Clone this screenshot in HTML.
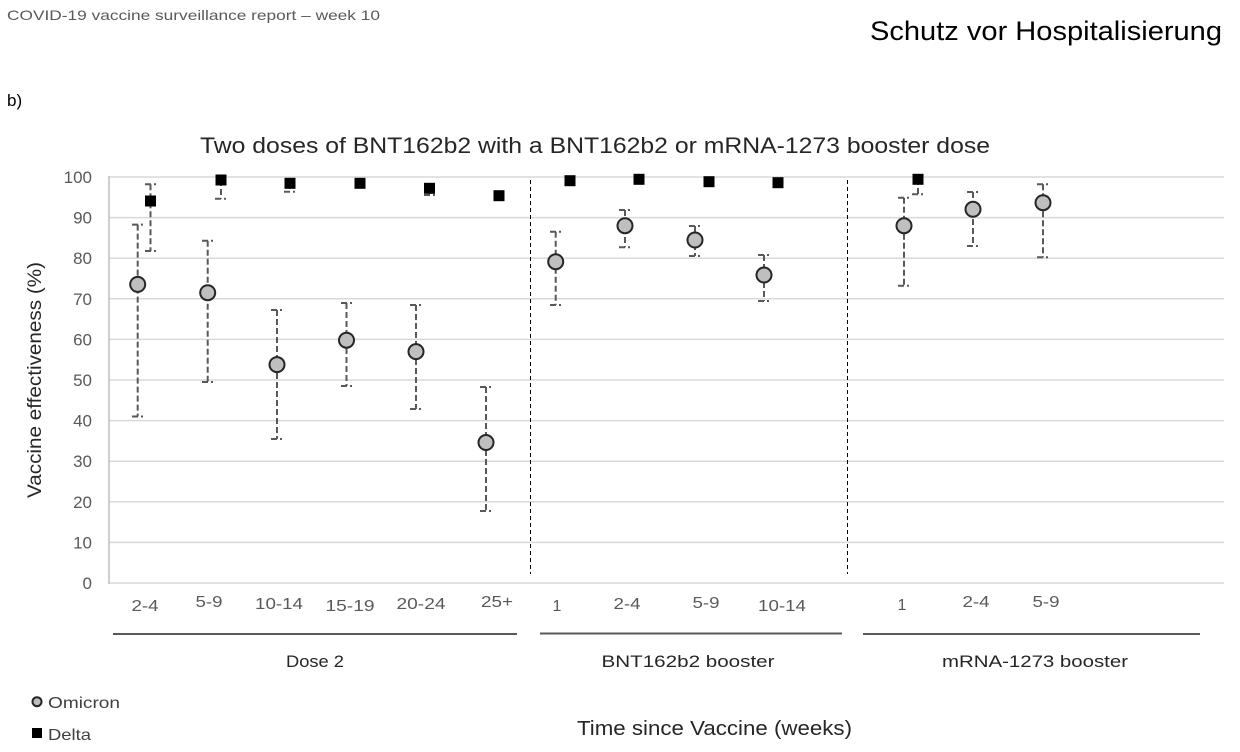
<!DOCTYPE html>
<html>
<head>
<meta charset="utf-8">
<style>
  html, body { margin: 0; padding: 0; background: #ffffff; }
  body { width: 1240px; height: 752px; overflow: hidden; }
  svg { display: block; }
  text { font-family: "Liberation Sans", "DejaVu Sans", sans-serif; }
</style>
</head>
<body>
<svg width="1240" height="752" viewBox="0 0 1240 752" xmlns="http://www.w3.org/2000/svg">
  <rect x="0" y="0" width="1240" height="752" fill="#ffffff"/>

  <!-- Header -->
  <text x="7" y="20" font-size="14" fill="#595959" textLength="373" lengthAdjust="spacingAndGlyphs">COVID-19 vaccine surveillance report – week 10</text>
  <text x="870" y="40" font-size="27" fill="#000000" textLength="352" lengthAdjust="spacingAndGlyphs">Schutz vor Hospitalisierung</text>
  <text x="7" y="106" font-size="17" fill="#000000">b)</text>

  <!-- Title -->
  <text x="200" y="153" font-size="22" fill="#262626" textLength="790" lengthAdjust="spacingAndGlyphs">Two doses of BNT162b2 with a BNT162b2 or mRNA-1273 booster dose</text>

  <!-- Gridlines -->
  <g stroke="#d9d9d9" stroke-width="1.5">
    <line x1="109" y1="177" x2="1224" y2="177"/>
    <line x1="109" y1="217.6" x2="1224" y2="217.6"/>
    <line x1="109" y1="258.2" x2="1224" y2="258.2"/>
    <line x1="109" y1="298.8" x2="1224" y2="298.8"/>
    <line x1="109" y1="339.4" x2="1224" y2="339.4"/>
    <line x1="109" y1="380" x2="1224" y2="380"/>
    <line x1="109" y1="420.6" x2="1224" y2="420.6"/>
    <line x1="109" y1="461.2" x2="1224" y2="461.2"/>
    <line x1="109" y1="501.8" x2="1224" y2="501.8"/>
    <line x1="109" y1="542.4" x2="1224" y2="542.4"/>
    <line x1="109" y1="583" x2="1224" y2="583"/>
  </g>
  <line x1="109" y1="176" x2="109" y2="584" stroke="#bfbfbf" stroke-width="1.5"/>

  <!-- Y tick labels -->
  <g font-size="17" fill="#595959" text-anchor="end">
    <text x="92" y="183">100</text>
    <text x="92" y="223.6">90</text>
    <text x="92" y="264.2">80</text>
    <text x="92" y="304.8">70</text>
    <text x="92" y="345.4">60</text>
    <text x="92" y="386">50</text>
    <text x="92" y="426.6">40</text>
    <text x="92" y="467.2">30</text>
    <text x="92" y="507.8">20</text>
    <text x="92" y="548.4">10</text>
    <text x="92" y="589">0</text>
  </g>

  <!-- Y axis title -->
  <text transform="translate(41,380) rotate(-90)" x="0" y="0" font-size="19" fill="#262626" text-anchor="middle" textLength="236" lengthAdjust="spacingAndGlyphs">Vaccine effectiveness (%)</text>

  <!-- Dashed separators -->
  <g stroke="#000000" stroke-width="1" stroke-dasharray="4,3">
    <line x1="530.5" y1="180" x2="530.5" y2="574"/>
    <line x1="847.5" y1="180" x2="847.5" y2="574"/>
  </g>

  <!-- Error bars -->
  <g stroke="#595959" stroke-width="2" fill="none" stroke-dasharray="6,3">
    <!-- Omicron Dose 2 -->
    <line x1="137.7" y1="224.6" x2="137.7" y2="416.5"/>
    <line x1="132" y1="224.6" x2="143" y2="224.6"/><line x1="132" y1="416.5" x2="143" y2="416.5"/>
    <line x1="207.7" y1="240.7" x2="207.7" y2="382"/>
    <line x1="202" y1="240.7" x2="213" y2="240.7"/><line x1="202" y1="382" x2="213" y2="382"/>
    <line x1="277" y1="310" x2="277" y2="439"/>
    <line x1="271" y1="310" x2="282" y2="310"/><line x1="271" y1="439" x2="282" y2="439"/>
    <line x1="346.5" y1="303" x2="346.5" y2="386"/>
    <line x1="341" y1="303" x2="352" y2="303"/><line x1="341" y1="386" x2="352" y2="386"/>
    <line x1="416" y1="305" x2="416" y2="409"/>
    <line x1="410" y1="305" x2="421" y2="305"/><line x1="410" y1="409" x2="421" y2="409"/>
    <line x1="486" y1="387" x2="486" y2="511"/>
    <line x1="480" y1="387" x2="491" y2="387"/><line x1="480" y1="511" x2="491" y2="511"/>
    <!-- Omicron BNT booster -->
    <line x1="555.7" y1="231.7" x2="555.7" y2="305"/>
    <line x1="550" y1="231.7" x2="561" y2="231.7"/><line x1="550" y1="305" x2="561" y2="305"/>
    <line x1="625" y1="210" x2="625" y2="247.3"/>
    <line x1="619" y1="210" x2="630" y2="210"/><line x1="619" y1="247.3" x2="630" y2="247.3"/>
    <line x1="695" y1="226" x2="695" y2="256"/>
    <line x1="689" y1="226" x2="700" y2="226"/><line x1="689" y1="256" x2="700" y2="256"/>
    <line x1="764" y1="255" x2="764" y2="301"/>
    <line x1="758" y1="255" x2="769" y2="255"/><line x1="758" y1="301" x2="769" y2="301"/>
    <!-- Omicron mRNA booster -->
    <line x1="904" y1="197.7" x2="904" y2="285.7"/>
    <line x1="898" y1="197.7" x2="909" y2="197.7"/><line x1="898" y1="285.7" x2="909" y2="285.7"/>
    <line x1="973" y1="192" x2="973" y2="246"/>
    <line x1="967" y1="192" x2="978" y2="192"/><line x1="967" y1="246" x2="978" y2="246"/>
    <line x1="1043" y1="184.3" x2="1043" y2="257.3"/>
    <line x1="1037" y1="184.3" x2="1048" y2="184.3"/><line x1="1037" y1="257.3" x2="1048" y2="257.3"/>
    <!-- Delta -->
    <line x1="150.5" y1="184.3" x2="150.5" y2="251"/>
    <line x1="145" y1="184.3" x2="156" y2="184.3"/><line x1="145" y1="251" x2="156" y2="251"/>
    <line x1="221" y1="180" x2="221" y2="198.7"/>
    <line x1="215" y1="198.7" x2="226" y2="198.7"/>
    <line x1="290" y1="183" x2="290" y2="191.7"/>
    <line x1="284" y1="191.7" x2="295" y2="191.7"/>
    <line x1="429.5" y1="188" x2="429.5" y2="195"/>
    <line x1="424" y1="195" x2="435" y2="195"/>
    <line x1="918" y1="179" x2="918" y2="194.3"/>
    <line x1="912" y1="194.3" x2="923" y2="194.3"/>
  </g>

  <!-- Omicron markers -->
  <g fill="#bfbfbf" stroke="#262626" stroke-width="2">
    <circle cx="137.7" cy="284.4" r="7.5"/>
    <circle cx="207.7" cy="292.7" r="7.5"/>
    <circle cx="277" cy="364.6" r="7.5"/>
    <circle cx="346.5" cy="340.2" r="7.5"/>
    <circle cx="416" cy="351.6" r="7.5"/>
    <circle cx="486" cy="442.5" r="7.5"/>
    <circle cx="555.7" cy="261.7" r="7.5"/>
    <circle cx="625" cy="225.7" r="7.5"/>
    <circle cx="695" cy="240" r="7.5"/>
    <circle cx="764" cy="275" r="7.5"/>
    <circle cx="904" cy="225.7" r="7.5"/>
    <circle cx="973" cy="209.3" r="7.5"/>
    <circle cx="1043" cy="202.7" r="7.5"/>
  </g>

  <!-- Delta markers -->
  <g fill="#000000">
    <rect x="145" y="195.5" width="11" height="11"/>
    <rect x="215.5" y="174.5" width="11" height="11"/>
    <rect x="284.5" y="177.8" width="11" height="11"/>
    <rect x="354.5" y="177.8" width="11" height="11"/>
    <rect x="424" y="182.8" width="11" height="11"/>
    <rect x="493.5" y="190.2" width="11" height="11"/>
    <rect x="564.5" y="175.2" width="11" height="11"/>
    <rect x="633.5" y="173.8" width="11" height="11"/>
    <rect x="703.5" y="176.2" width="11" height="11"/>
    <rect x="772.5" y="177.2" width="11" height="11"/>
    <rect x="912.5" y="173.8" width="11" height="11"/>
  </g>

  <!-- X category labels -->
  <g font-size="16" fill="#595959" text-anchor="middle">
    <text x="145" y="611" textLength="27" lengthAdjust="spacingAndGlyphs">2-4</text>
    <text x="209" y="607" textLength="27" lengthAdjust="spacingAndGlyphs">5-9</text>
    <text x="279" y="609" textLength="48" lengthAdjust="spacingAndGlyphs">10-14</text>
    <text x="350" y="611" textLength="49" lengthAdjust="spacingAndGlyphs">15-19</text>
    <text x="421" y="609" textLength="49" lengthAdjust="spacingAndGlyphs">20-24</text>
    <text x="497" y="607" textLength="32" lengthAdjust="spacingAndGlyphs">25+</text>
    <text x="557" y="611">1</text>
    <text x="627" y="609" textLength="27" lengthAdjust="spacingAndGlyphs">2-4</text>
    <text x="706" y="608" textLength="27" lengthAdjust="spacingAndGlyphs">5-9</text>
    <text x="782" y="611" textLength="48" lengthAdjust="spacingAndGlyphs">10-14</text>
    <text x="902" y="610">1</text>
    <text x="976" y="607" textLength="27" lengthAdjust="spacingAndGlyphs">2-4</text>
    <text x="1046" y="607" textLength="27" lengthAdjust="spacingAndGlyphs">5-9</text>
  </g>

  <!-- Group underlines -->
  <g stroke="#595959" stroke-width="2">
    <line x1="113" y1="634" x2="517" y2="634"/>
    <line x1="540" y1="633.5" x2="842" y2="633.5"/>
    <line x1="863" y1="634" x2="1200" y2="634"/>
  </g>

  <!-- Group labels -->
  <g font-size="17" fill="#262626" text-anchor="middle">
    <text x="315" y="667" textLength="58" lengthAdjust="spacingAndGlyphs">Dose 2</text>
    <text x="688" y="667" textLength="173" lengthAdjust="spacingAndGlyphs">BNT162b2 booster</text>
    <text x="1035" y="667" textLength="186" lengthAdjust="spacingAndGlyphs">mRNA-1273 booster</text>
  </g>

  <!-- X axis title -->
  <text x="714.5" y="735" font-size="20" fill="#262626" text-anchor="middle" textLength="275" lengthAdjust="spacingAndGlyphs">Time since Vaccine (weeks)</text>

  <!-- Legend -->
  <circle cx="37" cy="701.7" r="4.5" fill="#bfbfbf" stroke="#262626" stroke-width="2"/>
  <text x="48" y="708" font-size="16" fill="#404040" textLength="72" lengthAdjust="spacingAndGlyphs">Omicron</text>
  <rect x="32" y="728" width="10" height="10" fill="#000000"/>
  <text x="48" y="740" font-size="16" fill="#404040" textLength="43" lengthAdjust="spacingAndGlyphs">Delta</text>
</svg>
</body>
</html>
